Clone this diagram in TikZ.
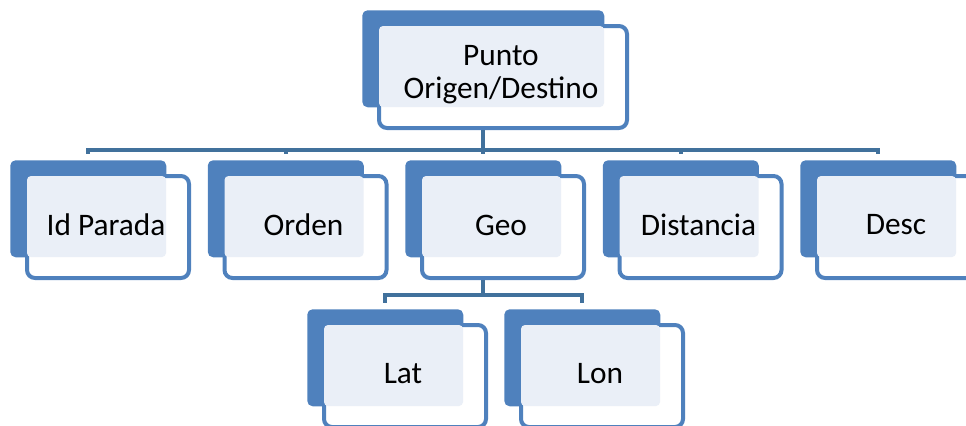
\documentclass[tikz,border=0pt]{standalone}
\usepackage{fontspec}
\setmainfont{Carlito}
\usetikzlibrary{positioning}
\definecolor{smblue}{HTML}{4F81BD}
\definecolor{smline}{HTML}{41719C}
\definecolor{smpale}{HTML}{EAEFF7}
\tikzset{
  backbox/.style={fill=smblue, rounded corners=4pt, minimum height=72.75pt, inner sep=0pt, anchor=north west},
  frontbox/.style={draw=smblue, line width=3pt, fill=white, rounded corners=6pt, minimum height=76.5pt, inner sep=0pt, anchor=north west},
  paleback/.style={fill=smpale, rounded corners=3pt},
  boxtext/.style={font=\fontsize{23.5pt}{24.75pt}\selectfont, align=center, inner sep=0pt},
  bus/.style={draw=smline, line width=3pt}
}
\begin{document}
\begin{tikzpicture}[x=0.75pt, y=-0.75pt]
  \useasboundingbox (0,0) rectangle (966,425);
  \clip (0,0) rectangle (966,425);
  % boxes: name / left / top / width / text
  \foreach \n/\x/\y/\w/\t in {punto/362/10/242/{Punto\\Origen/Destino},
      idparada/10/160/156/{Id Parada}, orden/207.5/160/156/{Orden},
      geo/405/160/156/{Geo}, distancia/602.5/160/156/{Distancia},
      desc/800/160/156/{Desc}, lat/307/309/156/{Lat}, lon/504/309/156/{Lon}} {
    \node[backbox, minimum width={\w*0.75pt}] (\n) at (\x,\y) {};
    \node[frontbox, minimum width={(\w+6)*0.75pt}] (\n-f) at (\x+15,\y+14) {};
    \fill[paleback] (\x+17,\y+16) rectangle (\x+\w,\y+97);
    \node[boxtext] (\n-t) at (\x+18+\w/2,\y+65) {\t};
  }
  % connectors
  \foreach \c in {idparada, orden, geo, distancia, desc}
    \draw[bus, shorten >=4.5pt] (punto.south |- punto-f.south) -- ++(0,20) -| (\c.north);
  \foreach \c in {lat, lon}
    \draw[bus, shorten >=4.5pt] (geo.south |- geo-f.south) -- ++(0,15) -| (\c.north);
\end{tikzpicture}
\end{document}
